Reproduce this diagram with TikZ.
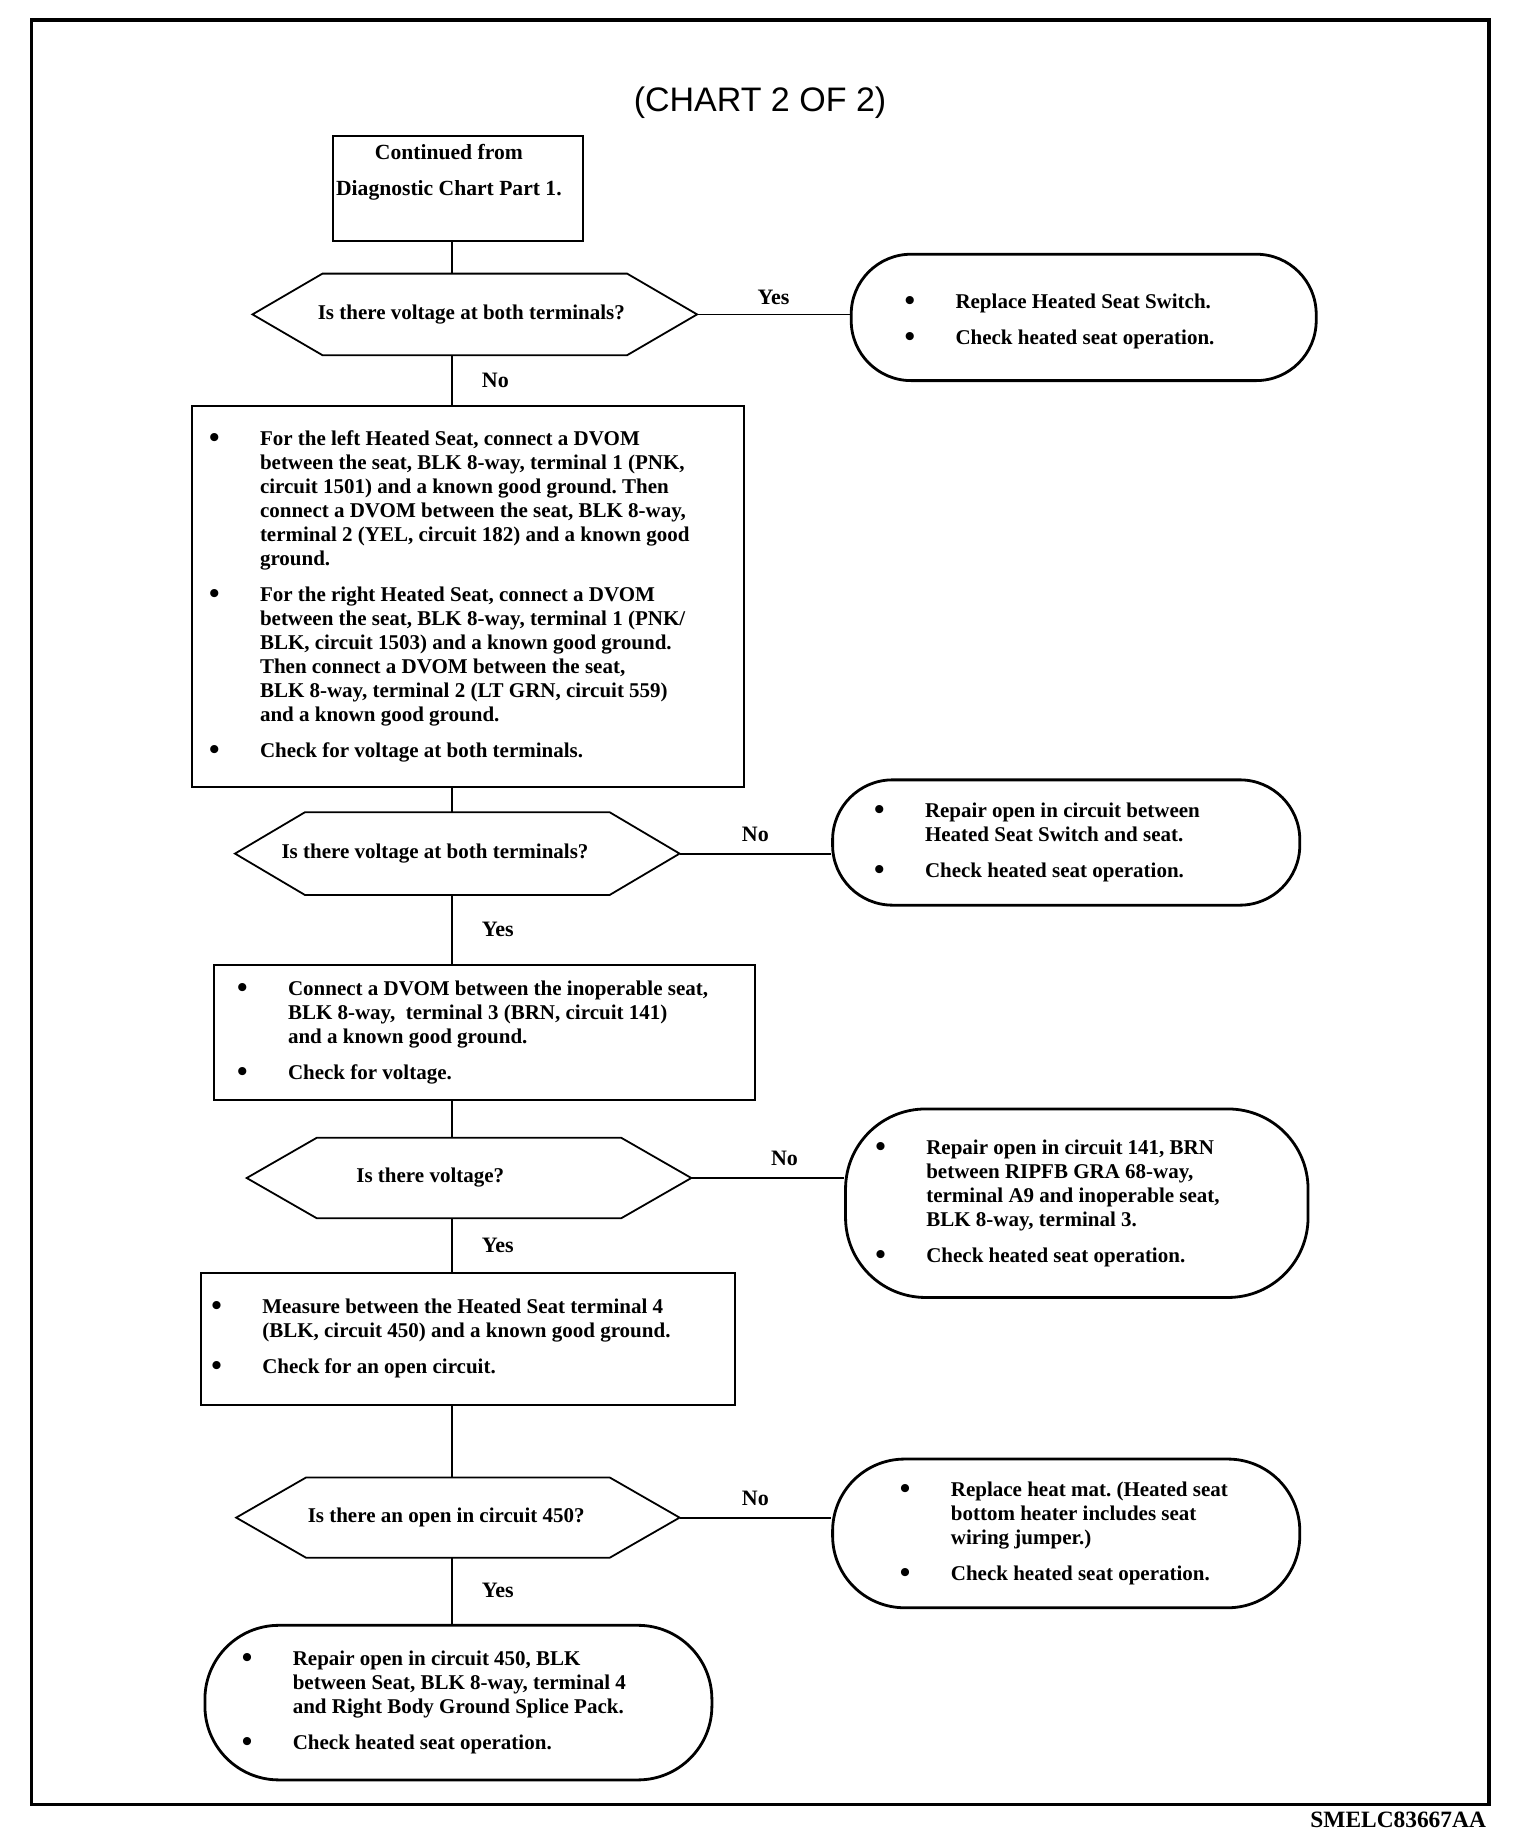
\documentclass[tikz,border=0pt]{standalone}
\usepackage{fontspec}
\setmainfont{Liberation Serif}
\newfontfamily\titlefont{Liberation Sans}
\usetikzlibrary{calc}
\frenchspacing
\newcommand\bodyfont{\fontsize{10.5}{12}\selectfont\bfseries}
\newcommand\bl{\makebox[24.7pt][l]{\hspace{-0.8pt}\raisebox{-1pt}{\fontsize{15}{12}\selectfont\textbullet}}}
\newcommand\blist[2]{\makebox[#1][l]{\begin{tabular}{@{}l@{}l@{}}#2\end{tabular}}}
\newcommand\hexof[1]{\draw[hexline] (#1.west) -- ([xshift=35pt]#1.north west) -- ([xshift=-35pt]#1.north east) -- (#1.east) -- ([xshift=-35pt]#1.south east) -- ([xshift=35pt]#1.south west) -- cycle;}
\begin{document}
\begin{tikzpicture}[x=0.5pt,y=-0.5pt,
  every node/.style={font=\bodyfont},
  procbox/.style={draw, line width=1pt, inner sep=0pt},
  termbox/.style={draw, line width=1.4pt, inner sep=0pt, rounded corners=30pt},
  hexnode/.style={inner sep=0pt, minimum width=221.9pt},
  hexline/.style={line width=0.9pt},
  conn/.style={line width=0.9pt},
  frameline/.style={line width=1.8pt},
  hlab/.style={inner sep=0pt, font=\fontsize{11}{12}\selectfont\bfseries},
  vlab/.style={inner sep=0pt, font=\fontsize{11}{12}\selectfont\bfseries, right=14.5pt}]
\useasboundingbox (0,0) rectangle (1520,1832);
\draw[frameline] (31.6,19.9) rectangle (1489,1804.5);
\coordinate (spine) at (452,0);

\node[font=\titlefont\fontsize{17}{20}\selectfont] (title) at (760,103) {(CHART 2 OF 2)};
\node[anchor=base east, font=\fontsize{11.7}{13}\selectfont\bfseries] (code) at (1493,1827) {SMELC83667AA};

\node[procbox, minimum width=125.3pt, minimum height=52.7pt, font=\fontsize{10.8}{12}\selectfont\bfseries] (start) at (457.9,188.5)
  {\kern-9pt\begin{tabular}{@{}c@{}}Continued from\\[6pt]Diagnostic Chart Part 1.\\[15.5pt]\end{tabular}};

\node[hexnode, minimum height=40.4pt] (q1) at (474.8,314.4) {\kern-3.5pt Is there voltage at both terminals?};
\hexof{q1}

\node[termbox, minimum width=232.5pt, minimum height=63.2pt, rounded corners=30pt] (t1) at (1083.7,317.4)
  {\raisebox{-2.3pt}[\height][\depth]{\blist{177.6pt}{\bl & Replace Heated Seat Switch.\\[6pt]
   \bl & Check heated seat operation.}}};

\node[procbox, minimum width=275.8pt, minimum height=190.3pt] (b1) at (467.8,596.6)
  {\blist{257.2pt}{\bl & For the left Heated Seat, connect a DVOM\\
   & between the seat, BLK 8-way, terminal 1 (PNK,\\
   & circuit 1501) and a known good ground. Then\\
   & connect a DVOM between the seat, BLK 8-way,\\
   & terminal 2 (YEL, circuit 182) and a known good\\
   & ground.\\[6pt]
   \bl & For the right Heated Seat, connect a DVOM\\
   & between the seat, BLK 8-way, terminal 1 (PNK/\\
   & BLK, circuit 1503) and a known good ground.\\
   & Then connect a DVOM between the seat,\\
   & BLK 8-way, terminal 2 (LT GRN, circuit 559)\\
   & and a known good ground.\\[6pt]
   \bl & Check for voltage at both terminals.}};

\node[hexnode, minimum height=41pt] (q2) at (457.3,853.6) {\kern-22.3pt Is there voltage at both terminals?};
\hexof{q2}

\node[termbox, minimum width=233.6pt, minimum height=62.65pt, rounded corners=30pt] (t2) at (1066.2,842.5)
  {\blist{190.6pt}{\bl & Repair open in circuit between\\
   & Heated Seat Switch and seat.\\[6pt]
   \bl & Check heated seat operation.}};

\node[procbox, minimum width=270.5pt, minimum height=67.35pt] (b3) at (484.8,1032.2)
  {\blist{246.2pt}{\bl & Connect a DVOM between the inoperable seat,\\
   & BLK 8-way,\ \ terminal 3 (BRN, circuit 141)\\
   & and a known good ground.\\[6pt]
   \bl & Check for voltage.}};

\node[hexnode, minimum height=39.8pt] (q3) at (469,1178) {\kern-38.7pt Is there voltage?};
\hexof{q3}

\node[termbox, minimum width=231.25pt, minimum height=94.25pt, rounded corners=40pt] (t3) at (1076.8,1203.2)
  {\blist{199.9pt}{\bl & Repair open in circuit 141, BRN\\
   & between RIPFB GRA 68-way,\\
   & terminal A9 and inoperable seat,\\
   & BLK 8-way, terminal 3.\\[6pt]
   \bl & Check heated seat operation.}};

\node[procbox, minimum width=267pt, minimum height=66.15pt] (b4) at (468.4,1339)
  {\blist{255.5pt}{\bl & Measure between the Heated Seat terminal 4\\
   & (BLK, circuit 450) and a known good ground.\\[6pt]
   \bl & Check for an open circuit.}};

\node[hexnode, minimum width=221.3pt, minimum height=39.8pt] (q4) at (457.9,1517.6) {\kern-11.7pt Is there an open in circuit 450?};
\hexof{q4}

\node[termbox, minimum width=233.6pt, minimum height=74.35pt, rounded corners=36pt] (t4) at (1066.2,1533.4)
  {\blist{164.7pt}{\bl & Replace heat mat. (Heated seat\\
   & bottom heater includes seat\\
   & wiring jumper.)\\[6pt]
   \bl & Check heated seat operation.}};

\node[termbox, minimum width=253.5pt, minimum height=77.3pt, rounded corners=37pt] (t5) at (458.4,1702.6)
  {\blist{215pt}{\bl & Repair open in circuit 450, BLK\\
   & between Seat, BLK 8-way, terminal 4\\
   & and Right Body Ground Splice Pack.\\[6pt]
   \bl & Check heated seat operation.}};

\draw[conn] (start.south -| spine) -- (q1.north -| spine);
\draw[conn] (q1.east) -- node[hlab, above=4.3pt] {Yes} (q1.east -| t1.west);
\draw[conn] (q1.south -| spine) -- node[vlab] {No} (b1.north -| spine);
\draw[conn] (b1.south -| spine) -- (q2.north -| spine);
\draw[conn] (q2.east) -- node[hlab, above=5.5pt] {No} (q2.east -| t2.west);
\draw[conn] (q2.south -| spine) -- node[vlab] {Yes} (b3.north -| spine);
\draw[conn] (b3.south -| spine) -- (q3.north -| spine);
\draw[conn] (q3.east) -- node[hlab, above=5.5pt, pos=0.61] {No} (q3.east -| t3.west);
\draw[conn] (q3.south -| spine) -- node[vlab] {Yes} (b4.north -| spine);
\draw[conn] (b4.south -| spine) -- (q4.north -| spine);
\draw[conn] (q4.east) -- node[hlab, above=5.5pt] {No} (q4.east -| t4.west);
\draw[conn] (q4.south -| spine) -- node[vlab] {Yes} (t5.north -| spine);
\end{tikzpicture}
\end{document}
